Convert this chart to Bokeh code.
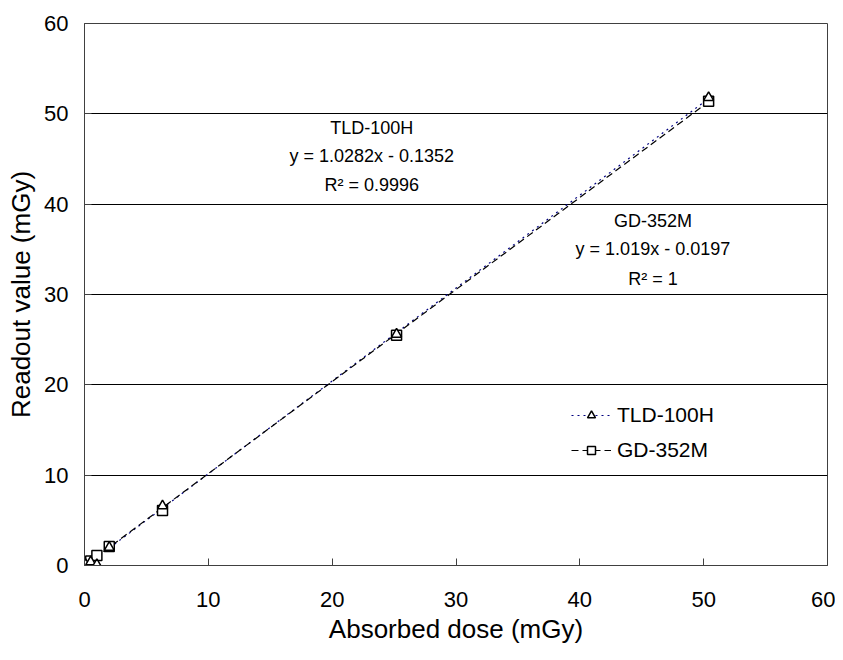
from bokeh.plotting import figure
from bokeh.models import Legend, LegendItem, Label, FixedTicker, Range1d
from bokeh.embed import file_html
from bokeh.resources import INLINE

# ---- data ----
dose = [0.1, 0.5, 1.0, 2.0, 6.3, 25.2, 50.4]
tld_100h = [0.1, 0.4, 0.1, 2.0, 6.6, 25.6, 51.8]
gd_352m = [0.1, 0.5, 1.1, 2.1, 6.1, 25.5, 51.4]
tld_fit = (1.0282, -0.1352)
gd_fit = (1.019, -0.0197)
ticks = [0, 10, 20, 30, 40, 50, 60]

FONT = "Liberation Sans"

p = figure(width=835, height=652, output_backend="svg", toolbar_location=None,
           x_range=Range1d(0, 60), y_range=Range1d(0, 60),
           min_border_left=84, min_border_right=8, min_border_top=23, min_border_bottom=87)
p.background_fill_color = "white"
p.outline_line_color = "#404040"
p.outline_line_width = 1

for ax, t in ((p.xaxis, "Absorbed dose (mGy)"), (p.yaxis, "Readout value (mGy)")):
    ax.ticker = FixedTicker(ticks=ticks)
    ax.axis_label = t
    ax.axis_label_text_font = FONT
    ax.axis_label_text_font_size = "26px"
    ax.axis_label_text_font_style = "normal"
    ax.axis_label_text_color = "black"
    ax.major_label_text_font = FONT
    ax.major_label_text_font_size = "22px"
    ax.major_label_text_color = "black"
    ax.axis_line_color = "#404040"
    ax.major_tick_line_color = "#404040"
    ax.major_tick_in = 7
    ax.major_tick_out = 0
    ax.minor_tick_line_color = None

p.xaxis.major_label_standoff = 26
p.xaxis.axis_label_standoff = 4
p.yaxis.major_label_standoff = 16
p.yaxis.axis_label_standoff = 5

p.xgrid.grid_line_color = None
p.ygrid.grid_line_color = "black"
p.ygrid.grid_line_width = 1

# trendlines
xs_fit = [min(dose), max(dose)]
tld_line = p.line(xs_fit, [tld_fit[0] * x + tld_fit[1] for x in xs_fit],
                  line_color="#000080", line_width=1.2, line_dash="2 4")
gd_line = p.line(xs_fit, [gd_fit[0] * x + gd_fit[1] for x in xs_fit],
                 line_color="black", line_width=1.2, line_dash="7 4")

gd_pts = p.scatter(dose, gd_352m, marker="square", size=10, fill_color="white",
                   line_color="black", line_width=1.5)
tld_pts = p.scatter(dose, tld_100h, marker="triangle", size=10, fill_color="white",
                    line_color="black", line_width=1.5)

legend = Legend(items=[
    LegendItem(label="TLD-100H", renderers=[tld_line, tld_pts]),
    LegendItem(label="GD-352M", renderers=[gd_line, gd_pts]),
], location=(487, 103))
legend.label_text_font = FONT
legend.label_text_font_size = "21px"
legend.label_text_color = "black"
legend.border_line_color = None
legend.background_fill_alpha = 0
legend.padding = 0
legend.margin = 0
legend.spacing = 11
legend.glyph_width = 40
legend.glyph_height = 20
legend.label_standoff = 6
p.add_layout(legend)

annotations = [
    (23.2, 48.4, "TLD-100H"), (23.2, 45.3, "y = 1.0282x - 0.1352"), (23.2, 42.1, "R² = 0.9996"),
    (45.9, 38.1, "GD-352M"), (45.9, 35.0, "y = 1.019x - 0.0197"), (45.9, 31.7, "R² = 1"),
]
for x, y, t in annotations:
    p.add_layout(Label(x=x, y=y, text=t, text_font=FONT, text_font_size="18px",
                       text_align="center", text_baseline="middle", text_color="black"))

open("out.html", "w").write(file_html(p, INLINE))
